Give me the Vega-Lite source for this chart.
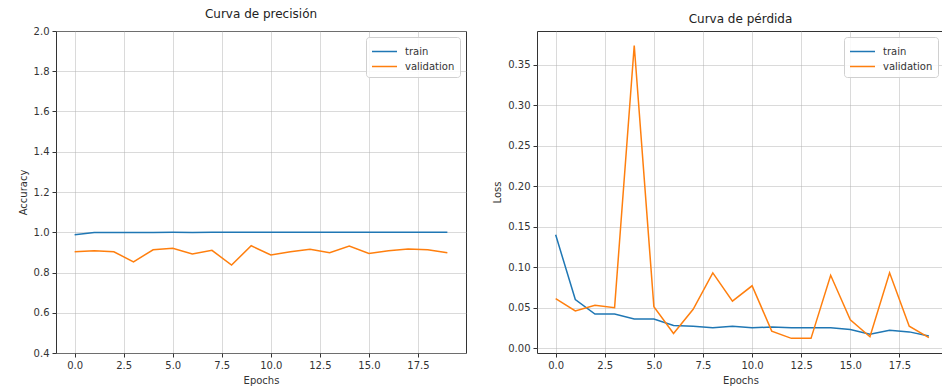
{
  "$schema": "https://vega.github.io/schema/vega-lite/v6.json",
  "padding": {"left": 17, "top": 7, "right": 0, "bottom": 0},
  "background": "white",
  "config": {
    "font": "DejaVu Sans",
    "view": {"stroke": "#333", "strokeWidth": 1},
    "axis": {
      "domain": false,
      "labelFontSize": 10,
      "labelColor": "#333",
      "titleFontSize": 10,
      "titleFontWeight": "normal",
      "titleColor": "#333",
      "tickColor": "#333",
      "tickSize": 4,
      "labelPadding": 3,
      "titlePadding": 5,
      "gridColor": "#b0b0b0",
      "gridOpacity": 0.6,
      "gridWidth": 0.8
    },
    "title": {"fontSize": 12, "fontWeight": "normal", "color": "#222", "offset": 5},
    "legend": {
      "fillColor": "rgba(255,255,255,0.85)",
      "strokeColor": "#d0d0d0",
      "cornerRadius": 3,
      "padding": 5,
      "symbolType": "M-1,0H1.94",
      "symbolSize": 289,
      "symbolStrokeWidth": 1.5,
      "labelFontSize": 10,
      "labelColor": "#333",
      "labelOffset": 15,
      "rowPadding": 0
    }
  },
  "data": {
    "values": [
      {"epoch": 0, "series": "train", "accuracy": 0.987, "loss": 0.140},
      {"epoch": 1, "series": "train", "accuracy": 0.999, "loss": 0.060},
      {"epoch": 2, "series": "train", "accuracy": 0.999, "loss": 0.042},
      {"epoch": 3, "series": "train", "accuracy": 0.999, "loss": 0.042},
      {"epoch": 4, "series": "train", "accuracy": 0.999, "loss": 0.036},
      {"epoch": 5, "series": "train", "accuracy": 1.0, "loss": 0.036},
      {"epoch": 6, "series": "train", "accuracy": 0.999, "loss": 0.028},
      {"epoch": 7, "series": "train", "accuracy": 1.0, "loss": 0.027},
      {"epoch": 8, "series": "train", "accuracy": 1.0, "loss": 0.025},
      {"epoch": 9, "series": "train", "accuracy": 1.0, "loss": 0.027},
      {"epoch": 10, "series": "train", "accuracy": 1.0, "loss": 0.025},
      {"epoch": 11, "series": "train", "accuracy": 1.0, "loss": 0.026},
      {"epoch": 12, "series": "train", "accuracy": 1.0, "loss": 0.025},
      {"epoch": 13, "series": "train", "accuracy": 1.0, "loss": 0.025},
      {"epoch": 14, "series": "train", "accuracy": 1.0, "loss": 0.025},
      {"epoch": 15, "series": "train", "accuracy": 1.0, "loss": 0.023},
      {"epoch": 16, "series": "train", "accuracy": 1.0, "loss": 0.017},
      {"epoch": 17, "series": "train", "accuracy": 1.0, "loss": 0.022},
      {"epoch": 18, "series": "train", "accuracy": 1.0, "loss": 0.020},
      {"epoch": 19, "series": "train", "accuracy": 1.0, "loss": 0.015},
      {"epoch": 0, "series": "validation", "accuracy": 0.903, "loss": 0.061},
      {"epoch": 1, "series": "validation", "accuracy": 0.908, "loss": 0.046},
      {"epoch": 2, "series": "validation", "accuracy": 0.903, "loss": 0.053},
      {"epoch": 3, "series": "validation", "accuracy": 0.853, "loss": 0.050},
      {"epoch": 4, "series": "validation", "accuracy": 0.913, "loss": 0.374},
      {"epoch": 5, "series": "validation", "accuracy": 0.920, "loss": 0.051},
      {"epoch": 6, "series": "validation", "accuracy": 0.892, "loss": 0.018},
      {"epoch": 7, "series": "validation", "accuracy": 0.910, "loss": 0.048},
      {"epoch": 8, "series": "validation", "accuracy": 0.837, "loss": 0.093},
      {"epoch": 9, "series": "validation", "accuracy": 0.933, "loss": 0.058},
      {"epoch": 10, "series": "validation", "accuracy": 0.887, "loss": 0.077},
      {"epoch": 11, "series": "validation", "accuracy": 0.903, "loss": 0.021},
      {"epoch": 12, "series": "validation", "accuracy": 0.915, "loss": 0.012},
      {"epoch": 13, "series": "validation", "accuracy": 0.898, "loss": 0.012},
      {"epoch": 14, "series": "validation", "accuracy": 0.932, "loss": 0.090},
      {"epoch": 15, "series": "validation", "accuracy": 0.895, "loss": 0.035},
      {"epoch": 16, "series": "validation", "accuracy": 0.908, "loss": 0.014},
      {"epoch": 17, "series": "validation", "accuracy": 0.917, "loss": 0.093},
      {"epoch": 18, "series": "validation", "accuracy": 0.913, "loss": 0.027},
      {"epoch": 19, "series": "validation", "accuracy": 0.898, "loss": 0.013}
    ]
  },
  "spacing": 25,
  "hconcat": [
    {
      "width": 410,
      "height": 322,
      "title": "Curva de precisión",
      "mark": {"type": "line", "strokeWidth": 1.5, "clip": true},
      "encoding": {
        "x": {
          "field": "epoch", "type": "quantitative",
          "scale": {"domain": [-0.95, 19.95], "nice": false, "zero": false},
          "axis": {"values": [0, 2.5, 5, 7.5, 10, 12.5, 15, 17.5], "format": ".1f", "title": "Epochs"}
        },
        "y": {
          "field": "accuracy", "type": "quantitative",
          "scale": {"domain": [0.4, 2.0], "nice": false, "zero": false},
          "axis": {"values": [0.4, 0.6, 0.8, 1.0, 1.2, 1.4, 1.6, 1.8, 2.0], "format": ".1f", "title": "Accuracy"}
        },
        "color": {
          "field": "series", "type": "nominal",
          "scale": {"domain": ["train", "validation"], "range": ["#1f77b4", "#ff7f0e"]},
          "legend": {"title": null, "orient": "top-right", "offset": 6}
        }
      }
    },
    {
      "width": 407,
      "height": 322,
      "title": "Curva de pérdida",
      "mark": {"type": "line", "strokeWidth": 1.5, "clip": true},
      "encoding": {
        "x": {
          "field": "epoch", "type": "quantitative",
          "scale": {"domain": [-0.95, 19.77], "nice": false, "zero": false},
          "axis": {"values": [0, 2.5, 5, 7.5, 10, 12.5, 15, 17.5], "format": ".1f", "title": "Epochs"}
        },
        "y": {
          "field": "loss", "type": "quantitative",
          "scale": {"domain": [-0.0061, 0.392], "nice": false, "zero": false},
          "axis": {"values": [0, 0.05, 0.1, 0.15, 0.2, 0.25, 0.3, 0.35], "format": ".2f", "title": "Loss"}
        },
        "color": {
          "field": "series", "type": "nominal",
          "scale": {"domain": ["train", "validation"], "range": ["#1f77b4", "#ff7f0e"]},
          "legend": {"title": null, "orient": "top-right", "offset": 6}
        }
      }
    }
  ],
  "resolve": {
    "scale": {"x": "independent", "y": "independent", "color": "independent"},
    "legend": {"color": "independent"}
  }
}
